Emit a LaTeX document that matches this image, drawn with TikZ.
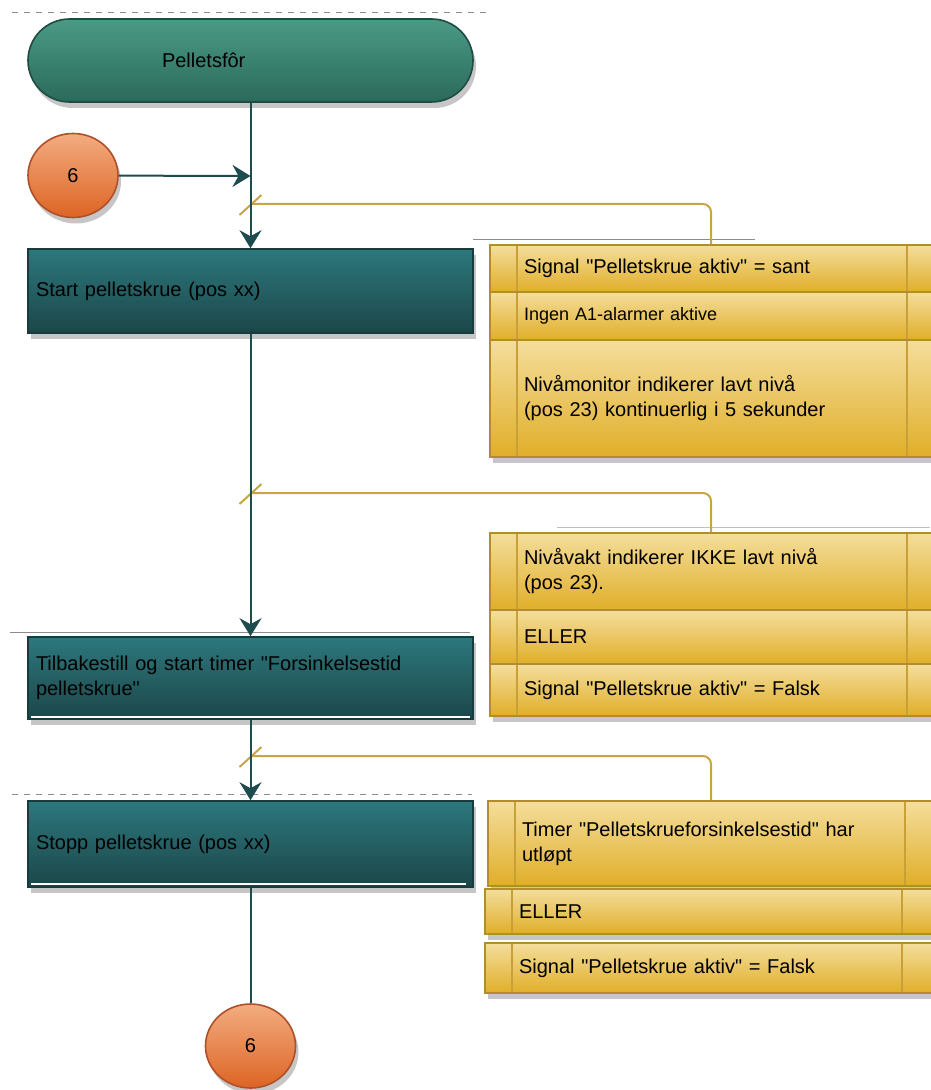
\documentclass[tikz,border=0pt]{standalone}
\usepackage{fontspec}
\setmainfont{Liberation Sans}[Ligatures=TeXOff]
\usetikzlibrary{arrows.meta,shapes.geometric,shadows}

\definecolor{trunkcol}{HTML}{1E4B4E}
\definecolor{termtop}{HTML}{4A9A86}
\definecolor{termbot}{HTML}{2B6A5B}
\definecolor{termdraw}{HTML}{1F4B42}
\definecolor{steptop}{HTML}{2C787D}
\definecolor{stepbot}{HTML}{1C4649}
\definecolor{stepdraw}{HTML}{183B3D}
\definecolor{jumptop}{HTML}{F3AC80}
\definecolor{jumpbot}{HTML}{DD6424}
\definecolor{jumpdraw}{HTML}{B0502A}
\definecolor{goldtop}{HTML}{F4DE9C}
\definecolor{goldbot}{HTML}{E0AE28}
\definecolor{golddraw}{HTML}{B48C30}
\definecolor{golddiv}{HTML}{C9A038}
\definecolor{goldcol}{HTML}{C9A442}

\begin{document}
\begin{tikzpicture}[x=0.5pt,y=-0.5pt,
    font=\fontsize{10}{12.5}\selectfont,
    >={Stealth[length=9pt,width=11pt,inset=3pt]},
    shade/.style={drop shadow={shadow xshift=1.5pt,shadow yshift=-3pt,opacity=0.45}},
    term/.style={draw=termdraw, line width=0.8pt, top color=termtop, bottom color=termbot,
        rounded corners=20.75pt, minimum height=41.5pt, text width=88.5pt,
        inner xsep=67pt, align=left, shade},
    stepbox/.style={draw=stepdraw, line width=0.8pt, top color=steptop, bottom color=stepbot,
        text width=214.5pt, inner xsep=4pt, align=left, shade},
    jump/.style={ellipse, draw=jumpdraw, line width=0.8pt, top color=jumptop, bottom color=jumpbot,
        minimum width=45pt, minimum height=42pt, inner sep=0pt, shade},
    goldrow/.style={draw=golddraw, line width=0.8pt, top color=goldtop, bottom color=goldbot,
        text width=191pt, inner xsep=17pt, align=left, shade,
        path picture={
            \draw[golddiv, line width=0.8pt] ([xshift=13.5pt]path picture bounding box.north west)
                -- ([xshift=13.5pt]path picture bounding box.south west);
            \draw[golddiv, line width=0.8pt] ([xshift=-16.5pt]path picture bounding box.north east)
                -- ([xshift=-16.5pt]path picture bounding box.south east);}},
    trunk/.style={draw=trunkcol, line width=1pt},
    goldline/.style={draw=goldcol, line width=1pt},
    lane/.style={draw=black!45, line width=0.5pt}]
\useasboundingbox (0,0) rectangle (930,1090);

% Lane lines
\draw[lane, dashed] (12,13) -- (490,13);
\draw[lane] (473,240) -- (755,240);
\draw[lane, black!25] (557,527) -- (930,527);
\draw[lane] (10,632) -- (470,632);
\draw[lane, dashed] (12,794) -- (472,794);

% Nodes
\node[term] (feed) at (250.5,60.5) {Pelletsfôr};
\node[jump] (jumpin) at (73,175.5) {6};
\node[stepbox, minimum height=42pt] (start) at (250.5,291) {Start pelletskrue (pos xx)};
\node[stepbox, minimum height=41pt] (reset) at (250.5,678) {Tilbakestill og start timer "Forsinkelsestid\\pelletskrue"};
\node[stepbox, minimum height=43pt] (stop) at (250.5,844) {Stopp pelletskrue (pos xx)};
\node[jump] (jumpout) at (250.5,1046) {6};

\draw[white, line width=1pt] ([shift={(2pt,1.5pt)}]reset.south west) -- ([shift={(-2pt,1.5pt)}]reset.south east);
\draw[white, line width=1pt] ([shift={(2pt,2pt)}]stop.south west) -- ([shift={(-4pt,2pt)}]stop.south east);

% Conditions
\node[goldrow, minimum height=23.5pt] (cond1a) at (715,268.5) {Signal "Pelletskrue aktiv" = sant};
\node[goldrow, minimum height=24pt, font=\fontsize{9}{11}\selectfont] (cond1b) at (715,316) {Ingen A1-alarmer aktive};
\node[goldrow, minimum height=58.5pt] (cond1c) at (715,398.5) {Nivåmonitor indikerer lavt nivå\\(pos 23) kontinuerlig i 5 sekunder};

\node[goldrow, minimum height=38.5pt] (cond2a) at (715,571.5) {Nivåvakt indikerer IKKE lavt nivå\\(pos 23).};
\node[goldrow, minimum height=27pt] (cond2b) at (715,637) {ELLER};
\node[goldrow, minimum height=26pt] (cond2c) at (715,690) {Signal "Pelletskrue aktiv" = Falsk};

\node[goldrow, minimum height=42.5pt] (cond3a) at (713,843.5) {Timer "Pelletskrueforsinkelsestid" har\\utløpt};
\node[goldrow, minimum height=22.5pt] (cond3b) at (710,911.5) {ELLER};
\node[goldrow, minimum height=25pt] (cond3c) at (710,968) {Signal "Pelletskrue aktiv" = Falsk};

% Joins on the main line
\coordinate (join) at (250.5,176);
\coordinate (tick1) at (250.5,204);
\coordinate (tick2) at (250.5,493);
\coordinate (tick3) at (250.5,756);

% Condition links
\draw[goldline, rounded corners=4pt] (tick1) -| ([xshift=-2pt]cond1a.north);
\draw[goldline, rounded corners=4pt] (tick2) -| ([xshift=-2pt]cond2a.north);
\draw[goldline, rounded corners=4pt] (tick3) -| ([xshift=-1pt]cond3a.north);
\draw[goldline] ([shift={(-11,11)}]tick1) -- ([shift={(11,-9)}]tick1);
\draw[goldline] ([shift={(-11,11)}]tick2) -- ([shift={(11,-9)}]tick2);
\draw[goldline] ([shift={(-11,11)}]tick3) -- ([shift={(11,-9)}]tick3);

% Edges
\draw[trunk, ->] (feed) -- (start);
\draw[trunk, ->] (jumpin) -- (join);
\draw[trunk, ->] (start) -- (reset);
\draw[trunk, ->] (reset) -- (stop);
\draw[trunk] (stop) -- (jumpout);
\end{tikzpicture}
\end{document}
